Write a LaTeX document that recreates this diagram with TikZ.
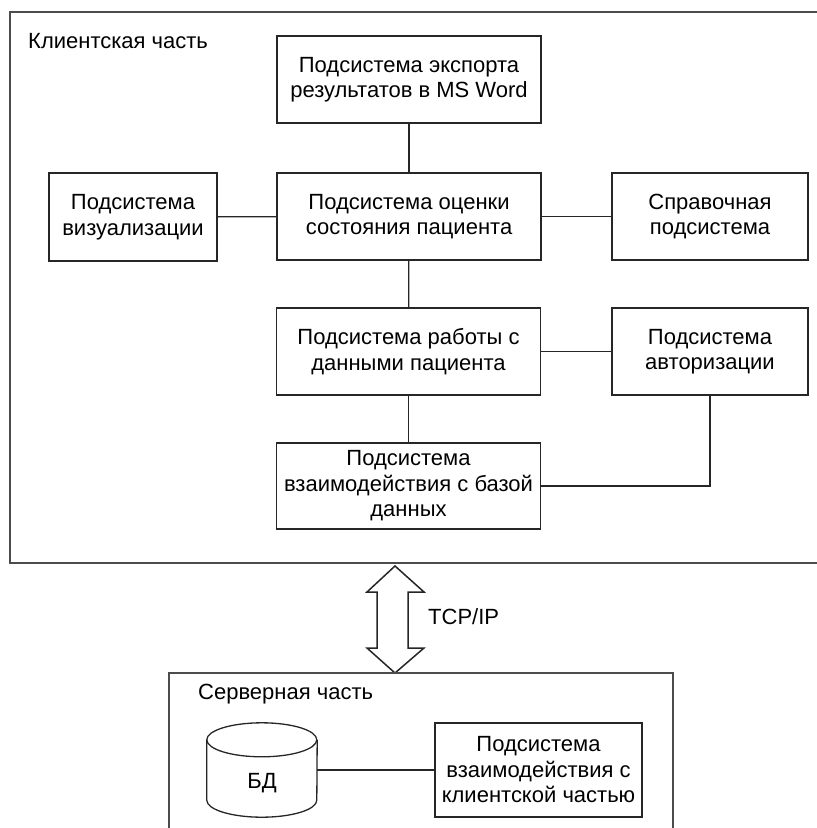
\documentclass[tikz,border=0pt]{standalone}
\usepackage{fontspec}
\setmainfont{Liberation Sans}
\usetikzlibrary{calc}
\begin{document}
\begin{tikzpicture}[x=1pt,y=-1pt,
  sub/.style={draw=black!85,line width=1.3pt,rectangle,align=center,inner sep=2pt,
    font=\fontsize{22}{25.5}\selectfont,text=black},
  conn/.style={draw=black!85,line width=1.3pt},
  frame/.style={draw=black!70,line width=1.6pt},
  lbl/.style={font=\fontsize{22}{25.5}\selectfont,text=black,inner sep=0pt}]
\useasboundingbox (0,0) rectangle (817,828);
% client frame
\draw[frame] (818,12) -- (10,12) -- (10,563) -- (818,563);
\node[lbl,anchor=west] (clientlbl) at (28,41) {Клиентская часть};
% boxes
\node[sub,minimum width=264pt,minimum height=87pt] (exp) at (409,79.5) {Подсистема экспорта\\результатов в MS Word};
\node[sub,minimum width=264pt,minimum height=87pt] (eval) at (409,216.5) {Подсистема оценки\\состояния пациента};
\node[sub,minimum width=168pt,minimum height=88pt] (vis) at (133,217) {Подсистема\\визуализации};
\node[sub,minimum width=196pt,minimum height=87pt] (ref) at (710,216.5) {Справочная\\подсистема};
\node[sub,minimum width=264pt,minimum height=87pt] (data) at (408.5,351.5) {Подсистема работы с\\данными пациента};
\node[sub,minimum width=196pt,minimum height=87pt] (auth) at (710,351.5) {Подсистема\\авторизации};
\node[sub,minimum width=264pt,minimum height=86pt] (db) at (408.5,486) {Подсистема\\взаимодействия с базой\\данных};
% connectors
\draw[conn] (exp) -- (eval);
\draw[conn] (vis) -- (eval);
\draw[conn] (eval) -- (ref);
\draw[conn] (eval) -- (data);
\draw[conn] (data) -- (auth);
\draw[conn] (data) -- (db);
\draw[conn] (auth.south) -- (auth.south |- db.east) -- (db.east);
% double arrow
\draw[conn,line width=1.5pt,fill=white] (395,566) -- (424,592) -- (408,592) -- (408,648) -- (424,648) -- (395,673)
  -- (367,648) -- (377,648) -- (377,592) -- (367,592) -- cycle;
\node[lbl,anchor=west] (tcp) at (428,617) {TCP/IP};
% server frame
\draw[frame] (169,830) -- (169,673) -- (673,673) -- (673,830);
\node[lbl,anchor=west] (serverlbl) at (198,694) {Серверная часть};
% database cylinder
\node[minimum width=110pt,minimum height=94pt,inner sep=0pt] (bd) at (262,770) {};
\draw[conn] ($(bd.north west)+(0,17)$) arc[start angle=180,end angle=-180,x radius=55pt,y radius=17pt];
\draw[conn] ($(bd.north west)+(0,17)$) -- ($(bd.south west)+(0,-17)$)
  arc[start angle=180,end angle=360,x radius=55pt,y radius=17pt] -- ($(bd.north east)+(0,17)$);
\node[lbl] (bdtext) at (262,783) {БД};
\node[sub,minimum width=207pt,minimum height=94pt] (cli) at (538.5,770) {Подсистема\\взаимодействия с\\клиентской частью};
\draw[conn] (bd.east) -- (cli.west);
\end{tikzpicture}
\end{document}
